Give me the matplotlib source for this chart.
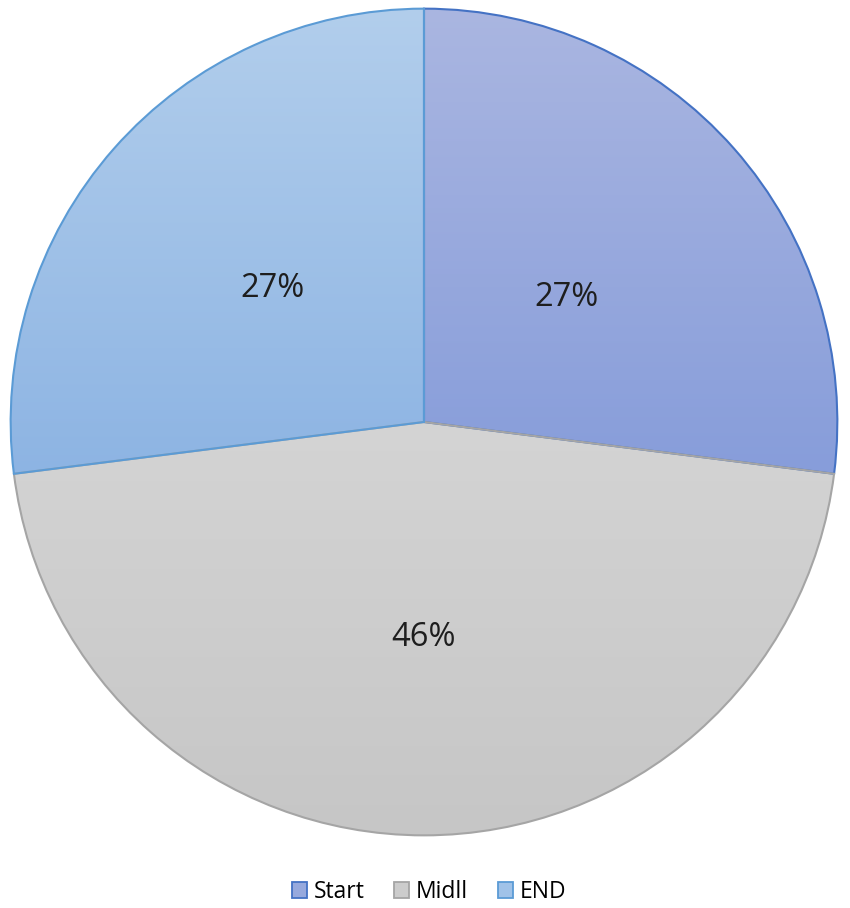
import numpy as np
import matplotlib
matplotlib.use('Agg')
import matplotlib.pyplot as plt
from matplotlib.colors import LinearSegmentedColormap
from matplotlib.patches import Patch

labels = ['Start', 'Midll', 'END']
values = [27, 46, 27]

# gradient (top, bottom) colours and edge colour for each slice
top_colors = ['#AAB6E1', '#D4D4D4', '#B2CEEC']
bottom_colors = ['#879DDA', '#C6C6C6', '#8DB4E3']
edge_colors = ['#4472C4', '#A5A5A5', '#5B9BD5']
legend_colors = ['#97A9DD', '#CCCCCC', '#A0C2E8']
label_dist = [0.46, 0.52, 0.49]

plt.rcParams['font.family'] = ['Open Sans', 'DejaVu Sans']

fig = plt.figure(figsize=(8.5, 9.08), dpi=100)
cx, cy, r = 424, 422, 415
ax = fig.add_axes([(cx - r) / 850, (908 - cy - r) / 908, 2 * r / 850, 2 * r / 908])

wedges, texts, autotexts = ax.pie(
    values, startangle=90, counterclock=False, radius=1,
    autopct='%1.0f%%', pctdistance=0.5,
    wedgeprops=dict(linewidth=1.5),
    textprops=dict(fontsize=23.5, color='#1E1E1E'))

grad = np.linspace(0, 1, 256).reshape(-1, 1)
for w, tc, bc, ec in zip(wedges, top_colors, bottom_colors, edge_colors):
    w.set_facecolor('none')
    w.set_edgecolor(ec)
    w.set_zorder(3)
    bb = w.get_path().get_extents()
    cmap = LinearSegmentedColormap.from_list('g', [tc, bc])
    im = ax.imshow(grad, cmap=cmap, extent=(bb.x0, bb.x1, bb.y0, bb.y1),
                   aspect='auto', origin='upper', zorder=1)
    im.set_clip_path(w)

for w, t, d in zip(wedges, autotexts, label_dist):
    ang = np.deg2rad((w.theta1 + w.theta2) / 2)
    t.set_position((d * np.cos(ang), d * np.sin(ang) - 0.002))
    t.set_zorder(5)

ax.set_xlim(-1.004, 1.004)
ax.set_ylim(-1.004, 1.004)
ax.axis('off')

handles = [Patch(facecolor=fc, edgecolor=ec, linewidth=1.3)
           for fc, ec in zip(legend_colors, edge_colors)]
fig.legend(handles, labels, loc='center', bbox_to_anchor=(0.505, 1 - 892 / 908),
           ncol=3, frameon=False, fontsize=16.5, handlelength=0.65, handleheight=0.65,
           handletextpad=0.3, columnspacing=1.3)

fig.savefig('out.png', dpi=100, facecolor='white')
plt.close(fig)
